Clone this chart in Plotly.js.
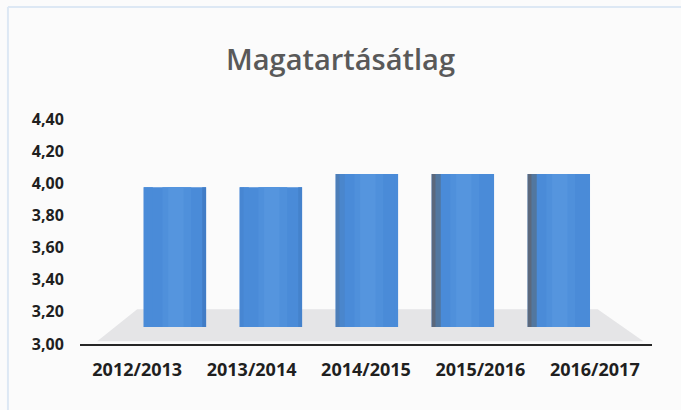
<!DOCTYPE html>
<html>
<head>
<meta charset="utf-8">
<script src="https://cdn.plot.ly/plotly-3.0.1.min.js"></script>
<style>
  html, body { margin: 0; padding: 0; background: #fbfbfb; }
  #chart { width: 681px; height: 410px; }
</style>
</head>
<body>
<div id="chart"></div>
<script>
// school years and their average conduct grade
const years = ['2012/2013', '2013/2014', '2014/2015', '2015/2016', '2016/2017'];
const averages = [3.96, 3.96, 4.05, 4.05, 4.05];
const yTicks = [3.0, 3.2, 3.4, 3.6, 3.8, 4.0, 4.2, 4.4];

const blue = '#4a8bd8';
const barWidth = 0.65;

// cylinder look: a base bar plus thin strips for shading
function strip(width, offset, colors) {
  return {
    type: 'bar',
    x: years,
    y: averages,
    xaxis: 'x2',
    yaxis: 'y2',
    width: width,
    offset: offset,
    marker: { color: colors, line: { width: 0 } },
    hoverinfo: 'skip',
    showlegend: false
  };
}

const data = [
  // keeps the category axis of the back wall
  {
    type: 'scatter',
    mode: 'markers',
    x: years,
    y: averages,
    marker: { opacity: 0 },
    hoverinfo: 'skip',
    showlegend: false
  },
  strip(barWidth, -barWidth / 2, blue),
  strip(0.3, -0.13, '#4f90db'),
  strip(0.16, -0.07, '#5595de'),
  strip(0.06, -barWidth / 2 + 0.035, [blue, blue, '#4a86cc', '#52779f', '#52779f']),
  strip(0.04, -barWidth / 2, [blue, '#4786d2', '#4d7eb8', '#5b687c', '#5b687c']),
  strip(0.04, barWidth / 2 - 0.04, ['#417cc6', '#4482cc', blue, blue, blue])
];

const layout = {
  width: 681,
  height: 410,
  margin: { l: 80, r: 29, t: 119, b: 66 },
  paper_bgcolor: '#fbfbfb',
  plot_bgcolor: 'rgba(0,0,0,0)',
  separators: ', ',
  barmode: 'overlay',
  showlegend: false,
  title: {
    text: 'Magatartásátlag',
    font: { family: 'Open Sans, sans-serif', size: 29, color: '#595959', weight: 600 },
    x: 0.5,
    xanchor: 'center',
    y: 0.855,
    yanchor: 'middle'
  },
  xaxis: {
    type: 'category',
    categoryarray: years,
    range: [-0.5, 4.5],
    showgrid: false,
    zeroline: false,
    showline: true,
    linecolor: '#262626',
    linewidth: 2,
    ticks: 'outside',
    ticklen: 8,
    tickcolor: 'rgba(0,0,0,0)',
    tickfont: { family: 'Open Sans, sans-serif', size: 18, color: '#1f1f1f', weight: 700 },
    fixedrange: true
  },
  yaxis: {
    range: [3, 4.4],
    tickvals: yTicks,
    tickformat: '.2f',
    showgrid: false,
    zeroline: false,
    showline: false,
    ticks: 'outside',
    ticklen: 12,
    tickcolor: 'rgba(0,0,0,0)',
    tickfont: { family: 'Open Sans, sans-serif', size: 16, color: '#1f1f1f', weight: 700 },
    fixedrange: true
  },
  xaxis2: {
    type: 'category',
    categoryarray: years,
    range: [-0.5, 4.5],
    domain: [0.082, 0.921],
    anchor: 'y2',
    visible: false
  },
  yaxis2: {
    range: [3, 4.4],
    domain: [0.0756, 0.982],
    anchor: 'x2',
    visible: false
  },
  shapes: [
    // floor of the 3D box
    {
      type: 'path',
      xref: 'paper', yref: 'paper',
      path: 'M 0.03 0.012 L 0.985 0.012 L 0.905 0.155 L 0.1 0.155 Z',
      fillcolor: '#e5e5e7',
      line: { width: 0 },
      layer: 'below'
    },
    // faint scan border on the left and top
    {
      type: 'line', xref: 'paper', yref: 'paper',
      x0: -0.126, x1: -0.126, y0: -0.3, y1: 1.498,
      line: { color: '#dde8f4', width: 2 }
    },
    {
      type: 'line', xref: 'paper', yref: 'paper',
      x0: -0.126, x1: 1.06, y0: 1.498, y1: 1.498,
      line: { color: '#dde8f4', width: 2 }
    }
  ]
};

Plotly.newPlot('chart', data, layout, { displayModeBar: false, staticPlot: true });
</script>
</body>
</html>
